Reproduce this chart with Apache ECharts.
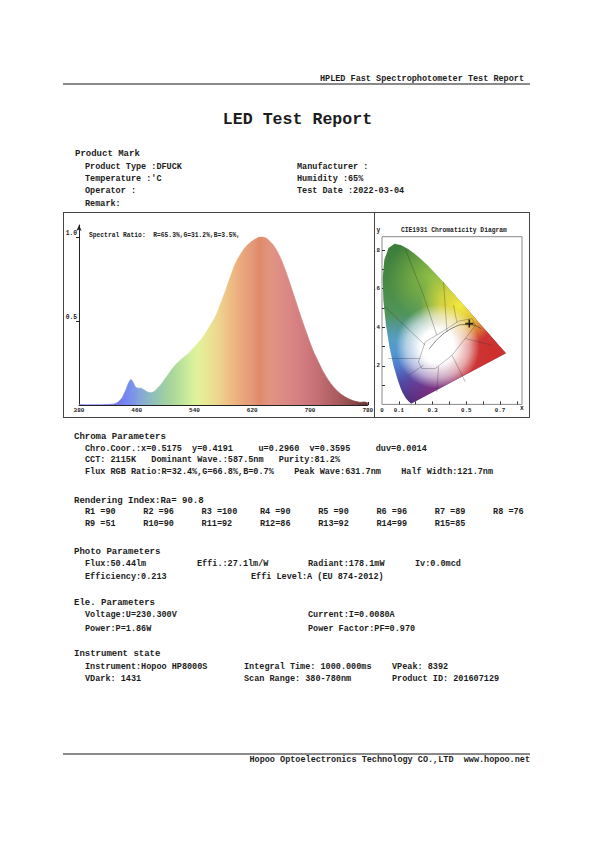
<!DOCTYPE html>
<html><head><meta charset="utf-8">
<script src="https://cdn.jsdelivr.net/npm/echarts@6/dist/echarts.min.js"></script>
<style>
html,body{margin:0;padding:0;background:#fff;}
#page{position:relative;width:595px;height:841px;overflow:hidden;background:#fff;}
#chart{position:absolute;left:0;top:0;width:595px;height:841px;z-index:1;}
.t{position:absolute;font-family:'Liberation Mono','DejaVu Sans Mono',monospace;font-weight:bold;font-size:8.5px;line-height:10px;white-space:pre;color:#1c1c1c;z-index:3;}
.h{font-size:9px;}
.s{font-size:6.3px;line-height:7px;}
.ln{position:absolute;background:#8a8a8a;z-index:2;}
.box{position:absolute;border:1px solid #444;box-sizing:border-box;z-index:2;}
</style></head><body><div id="page">
<div id="chart"></div>
<div class="t" style="right:71px;top:74px">HPLED Fast Spectrophotometer Test Report</div>
<div class="ln" style="left:63px;top:83px;width:467px;height:1.6px"></div>
<div class="t" style="left:0;width:595px;text-align:center;top:110px;font-size:16.6px;line-height:20px">LED Test Report</div>

<div class="t h" style="left:75px;top:149px">Product Mark</div>
<div class="t" style="left:85px;top:162px">Product Type :DFUCK</div>
<div class="t" style="left:297px;top:162px">Manufacturer :</div>
<div class="t" style="left:85px;top:174px">Temperature :'C</div>
<div class="t" style="left:297px;top:174px">Humidity :65%</div>
<div class="t" style="left:85px;top:186px">Operator :</div>
<div class="t" style="left:297px;top:186px">Test Date :2022-03-04</div>
<div class="t" style="left:85px;top:199px">Remark:</div>

<div class="box" style="left:63px;top:212px;width:467px;height:206px"></div>
<div class="ln" style="left:374px;top:212px;width:1px;height:206px;background:#444"></div>
<div class="t s" id="ratio" style="left:89px;top:231.5px"></div>
<div class="t s" style="left:401px;top:226.5px">CIE1931 Chromaticity Diagram</div>
<div class="t s" style="left:376.5px;top:226.5px">y</div>
<div class="t s" style="left:520px;top:404.5px">x</div>

<div class="t h" style="left:74px;top:431.5px">Chroma Parameters</div>
<div class="t" style="left:85px;top:443.5px">Chro.Coor.:x=0.5175  y=0.4191     u=0.2960  v=0.3595     duv=0.0014</div>
<div class="t" style="left:85px;top:455px">CCT: 2115K   Dominant Wave.:587.5nm   Purity:81.2%</div>
<div class="t" style="left:85px;top:466.5px">Flux RGB Ratio:R=32.4%,G=66.8%,B=0.7%    Peak Wave:631.7nm    Half Width:121.7nm</div>

<div class="t h" style="left:74px;top:495.5px">Rendering Index:Ra= 90.8</div>
<div id="rrows"></div>

<div class="t h" style="left:74px;top:547.3px">Photo Parameters</div>
<div class="t" style="left:85px;top:559.3px">Flux:50.44lm</div>
<div class="t" style="left:197px;top:559.3px">Effi.:27.1lm/W</div>
<div class="t" style="left:308px;top:559.3px">Radiant:178.1mW</div>
<div class="t" style="left:415px;top:559.3px">Iv:0.0mcd</div>
<div class="t" style="left:85px;top:572px">Efficiency:0.213</div>
<div class="t" style="left:251px;top:572px">Effi Level:A (EU 874-2012)</div>

<div class="t h" style="left:74px;top:597.7px">Ele. Parameters</div>
<div class="t" style="left:85px;top:610.3px">Voltage:U=230.300V</div>
<div class="t" style="left:308px;top:610.3px">Current:I=0.0080A</div>
<div class="t" style="left:85px;top:624px">Power:P=1.86W</div>
<div class="t" style="left:308px;top:624px">Power Factor:PF=0.970</div>

<div class="t h" style="left:74px;top:649.3px">Instrument state</div>
<div class="t" style="left:85px;top:662px">Instrument:Hopoo HP8000S</div>
<div class="t" style="left:244px;top:662px">Integral Time: 1000.000ms</div>
<div class="t" style="left:392px;top:662px">VPeak: 8392</div>
<div class="t" style="left:85px;top:674.3px">VDark: 1431</div>
<div class="t" style="left:244px;top:674.3px">Scan Range: 380-780nm</div>
<div class="t" style="left:392px;top:674.3px">Product ID: 201607129</div>

<div class="ln" style="left:63px;top:753px;width:467px;height:1.6px"></div>
<div class="t" style="right:65px;top:755px">Hopoo Optoelectronics Technology CO.,LTD  www.hopoo.net</div>
</div>
<script>
// ---------- data ----------
const wavelengths = [380,390,400,410,420,425,430,435,440,445,448,452,455,458,462,466,470,475,480,485,490,495,500,505,510,515,520,525,530,535,540,545,550,555,560,565,570,575,580,585,590,595,600,605,610,615,620,625,630,635,640,645,650,655,660,665,670,675,680,685,690,695,700,705,710,715,720,725,730,735,740,745,750,755,760,765,770,775,780];
const intensity = [0.003,0.002,0.002,0.002,0.003,0.004,0.008,0.02,0.045,0.09,0.125,0.152,0.135,0.108,0.1,0.1,0.09,0.077,0.073,0.083,0.105,0.13,0.16,0.19,0.22,0.245,0.265,0.283,0.3,0.322,0.345,0.37,0.395,0.425,0.46,0.495,0.535,0.59,0.645,0.705,0.765,0.825,0.87,0.905,0.935,0.958,0.975,0.988,0.998,0.997,0.99,0.97,0.945,0.91,0.865,0.81,0.75,0.685,0.62,0.555,0.49,0.43,0.37,0.315,0.27,0.225,0.185,0.15,0.12,0.095,0.075,0.058,0.045,0.034,0.025,0.02,0.016,0.018,0.012];
const specXTicks = [380,460,540,620,700,780];
const specYTicks = [0.5,1.0];
const spectralRatio = {R:'65.3%', G:'31.2%', B:'3.5%'};
const renderingIndex = [90,96,100,90,90,96,89,76,51,90,92,86,92,99,85];

// CIE 1931 spectral locus (x, y)
const locusX = [0.1741,0.1733,0.1726,0.1714,0.1689,0.1644,0.1566,0.1440,0.1241,0.1096,0.0913,0.0687,0.0454,0.0235,0.0082,0.0039,0.0139,0.0389,0.0743,0.1142,0.1547,0.1929,0.2296,0.2658,0.3016,0.3373,0.3731,0.4087,0.4441,0.4788,0.5125,0.5448,0.5752,0.6029,0.6270,0.6658,0.6915,0.7079,0.7190,0.7260,0.7300,0.7334,0.7347];
const locusY = [0.0050,0.0048,0.0048,0.0051,0.0069,0.0109,0.0177,0.0297,0.0578,0.0868,0.1327,0.2007,0.2950,0.4127,0.5384,0.6548,0.7502,0.8120,0.8338,0.8262,0.8059,0.7816,0.7543,0.7243,0.6923,0.6589,0.6245,0.5896,0.5547,0.5202,0.4866,0.4544,0.4242,0.3965,0.3725,0.3340,0.3083,0.2920,0.2809,0.2740,0.2700,0.2666,0.2653];
const planckX = [0.5857,0.5267,0.4770,0.4369,0.3805,0.3451,0.3135,0.2807];
const planckY = [0.3931,0.4133,0.4137,0.4041,0.3768,0.3516,0.3237,0.2884];
const regionLines = [
  [[0.216,0.22],[0.256,0.324],[0.355,0.376],[0.454,0.432],[0.534,0.445],[0.554,0.41],[0.494,0.342],[0.415,0.255],[0.315,0.186],[0.236,0.186],[0.216,0.22]],
  [[0.018,0.506],[0.256,0.307]],
  [[0.137,0.809],[0.246,0.566],[0.325,0.359]],
  [[0.365,0.635],[0.385,0.376]],
  [[0.424,0.515],[0.444,0.425]],
  [[0.038,0.238],[0.226,0.238]],
  [[0.157,0.151],[0.246,0.203]],
  [[0.325,0.065],[0.335,0.195]],
  [[0.494,0.117],[0.415,0.255]],
  [[0.653,0.307],[0.494,0.342]]
];
const testPoint = [0.5175, 0.4191];
const cieXLabels = [0,0.1,0.3,0.5,0.7];
const cieYLabels = [0.2,0.4,0.6,0.8];
const cieTicks = [0.1,0.2,0.3,0.4,0.5,0.6,0.7,0.8];

// ---------- text built from data ----------
document.getElementById('ratio').textContent = 'Spectral Ratio:  R=' + spectralRatio.R + ',G=' + spectralRatio.G + ',B=' + spectralRatio.B + ',';
(function(){
  const holder = document.getElementById('rrows');
  renderingIndex.forEach(function(v,i){
    const d = document.createElement('div');
    d.className = 't';
    const col = i % 8, row = Math.floor(i / 8);
    d.style.left = (85 + col * 58.3) + 'px';
    d.style.top = (row === 0 ? 507.3 : 519) + 'px';
    d.textContent = 'R' + (i+1) + (i < 9 ? ' =' : '=') + v;
    holder.appendChild(d);
  });
})();

// ---------- chart ----------
const FONT = 'Liberation Mono';
const chart = echarts.init(document.getElementById('chart'), null, {renderer:'svg'});
const specStops = [
  [0,'#8a8af8'],[0.125,'#7070ee'],[0.1625,'#7686f0'],[0.1875,'#7c94e8'],[0.2125,'#86a6d8'],
  [0.2375,'#8ab6c6'],[0.275,'#96c6ae'],[0.3125,'#a6d39c'],[0.35,'#bae19a'],[0.3875,'#d3ef9c'],
  [0.4125,'#e2f29a'],[0.45,'#e9e494'],[0.4875,'#eed28e'],[0.525,'#efbc84'],[0.5625,'#eaa87c'],
  [0.6,'#e49878'],[0.625,'#e08a6a'],[0.6625,'#e29482'],[0.7125,'#dc8a86'],[0.775,'#d27c80'],
  [0.8375,'#c06c70'],[0.9,'#a85a5c'],[0.95,'#8c4848'],[1,'#603030']
].map(s => ({offset:s[0], color:s[1]}));
const specGrad = new echarts.graphic.LinearGradient(0,0,1,0,specStops);
const lab = {fontFamily:FONT, fontWeight:'bold', color:'#222'};

function cieRender(params, api){
  const pts = locusX.map((x,i) => api.coord([x, locusY[i]]));
  const c = p => api.coord(p);
  const t = c([0,0.84]), b = c([0,0]);
  const base = {type:'linear', x:0, y:t[1], x2:0, y2:b[1], global:true, colorStops:[
    {offset:0,color:'#3c7c3a'},{offset:0.286,color:'#4a8c46'},{offset:0.44,color:'#50945a'},
    {offset:0.6,color:'#5a98b8'},{offset:0.75,color:'#4f70cc'},{offset:0.9,color:'#3c46a8'},{offset:1,color:'#222878'}]};
  const rad = (p, r, stops) => { const q = c(p); return {type:'radial', x:q[0], y:q[1], r:r, global:true,
    colorStops: stops.map(s => ({offset:s[0], color:s[1]}))}; };
  const fills = [
    base,
    rad([0.06,0.28], 34, [[0,'rgba(80,165,215,0.6)'],[1,'rgba(80,165,215,0)']]),
    rad([0.30,0.66], 45, [[0,'rgba(165,205,70,0.8)'],[1,'rgba(165,205,70,0)']]),
    rad([0.66,0.27], 75, [[0,'rgba(206,46,44,1)'],[0.5,'rgba(210,56,52,0.94)'],[1,'rgba(215,70,65,0)']]),
    rad([0.30,0.05], 45, [[0,'rgba(140,45,120,0.85)'],[1,'rgba(140,45,120,0)']]),
    rad([0.46,0.51], 40, [[0,'rgba(242,234,62,1)'],[0.5,'rgba(238,225,60,0.75)'],[1,'rgba(238,225,60,0)']]),
    rad([0.33,0.30], 42, [[0,'rgba(255,255,255,1)'],[0.4,'rgba(255,255,255,1)'],[0.75,'rgba(255,255,255,0.55)'],[1,'rgba(255,255,255,0)']])
  ];
  return {type:'group', children: fills.map(f => ({type:'polygon', shape:{points:pts}, style:{fill:f, lineWidth:0}}))};
}

const option = {
  animation:false,
  grid:[
    {left:79, top:225, width:288.8, height:180, show:false},
    {left:382, top:236.7, width:140, height:167.7, show:true, borderColor:'#8a8a8a', borderWidth:1, backgroundColor:'transparent'}
  ],
  xAxis:[
    {gridIndex:0, type:'value', min:380, max:780,
     axisLine:{show:true, onZero:false, lineStyle:{color:'#222', width:1}},
     axisTick:{show:true, inside:true, length:3, customValues:specXTicks, lineStyle:{color:'#222'}},
     axisLabel:Object.assign({customValues:specXTicks, fontSize:6, margin:2}, lab),
     splitLine:{show:false}},
    {gridIndex:1, type:'value', min:0, max:0.83,
     axisLine:{show:false},
     axisTick:{show:true, inside:true, length:3, customValues:cieTicks, lineStyle:{color:'#333'}},
     axisLabel:Object.assign({customValues:cieXLabels, fontSize:5.8, margin:3, formatter:v => v === 0 ? '0' : v.toFixed(1)}, lab),
     splitLine:{show:false}}
  ],
  yAxis:[
    {gridIndex:0, type:'value', min:0, max:1.07,
     axisLine:{show:true, onZero:false, symbol:['none','arrow'], symbolSize:[4,6], lineStyle:{color:'#222', width:1}},
     axisTick:{show:true, length:3, customValues:specYTicks, lineStyle:{color:'#222'}},
     axisLabel:Object.assign({customValues:specYTicks, fontSize:6.3, margin:2, verticalAlign:'bottom', formatter:v => v.toFixed(1)}, lab),
     splitLine:{show:false}},
    {gridIndex:1, type:'value', min:0, max:0.87,
     axisLine:{show:false},
     axisTick:{show:true, inside:true, length:3, customValues:cieTicks, lineStyle:{color:'#333'}},
     axisLabel:Object.assign({customValues:cieYLabels, fontSize:5.8, margin:2, formatter:v => '.' + Math.round(v*10)}, lab),
     splitLine:{show:false}}
  ],
  series:[
    {type:'line', xAxisIndex:0, yAxisIndex:0, data:wavelengths.map((w,i) => [w, intensity[i]]),
     showSymbol:false, smooth:0.25, silent:true,
     lineStyle:{width:0.7, color:specGrad}, areaStyle:{color:specGrad, opacity:1}},
    {type:'custom', xAxisIndex:1, yAxisIndex:1, data:[[0,0]], renderItem:cieRender, silent:true, z:2},
    {type:'lines', coordinateSystem:'cartesian2d', xAxisIndex:1, yAxisIndex:1, polyline:true, silent:true, z:3,
     data:regionLines.map(s => ({coords:s})), lineStyle:{color:'#333', width:0.5, opacity:0.65}},
    {type:'line', xAxisIndex:1, yAxisIndex:1, data:planckX.map((x,i) => [x, planckY[i]]), showSymbol:false, smooth:true, silent:true, z:4,
     lineStyle:{color:'#333', width:0.6}},
    {type:'scatter', xAxisIndex:1, yAxisIndex:1, data:[testPoint], symbol:'path://M4,0h2v4h4v2h-4v4h-2v-4h-4v-2h4z', symbolSize:8, silent:true, z:5,
     itemStyle:{color:'#000'}}
  ]
};
chart.setOption(option);
</script>
</body></html>
